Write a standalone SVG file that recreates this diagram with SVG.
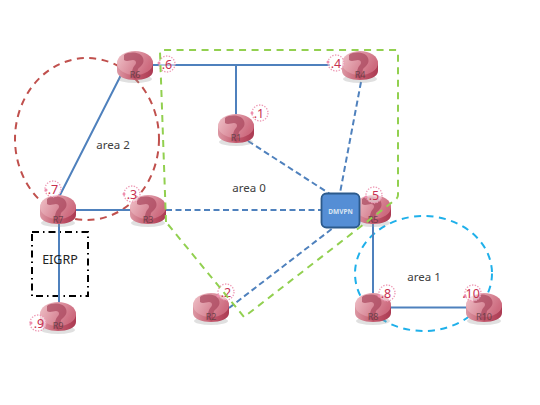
<svg xmlns="http://www.w3.org/2000/svg" width="540" height="405" viewBox="0 0 540 405">
<style>
text{font-family:"Noto Sans","Liberation Sans",sans-serif}
.solid,.dash{fill:none;stroke:#4f81bd;stroke-width:2}
.dash{stroke-dasharray:6 3.500}
.area{font-size:11.500px;fill:#404040;text-anchor:middle}
.rname{font-size:9px;fill:#5a3a40;text-anchor:middle;opacity:.8}
.badge{fill:#fff;fill-opacity:.55;stroke:#ee9ab5;stroke-width:1.300;stroke-dasharray:1.400 1.400}
.bdot{fill:#ee8fae}
.num{font-size:12.500px;fill:#c8304f;text-anchor:middle}
</style>
<defs>
<linearGradient id="side" x1="0" x2="1" y1="0" y2="0"><stop offset="0" stop-color="#dc98a4"/><stop offset=".5" stop-color="#c45a6e"/><stop offset="1" stop-color="#ab3a52"/></linearGradient>
<linearGradient id="top" x1="0" x2="1" y1="0" y2="0.400"><stop offset="0" stop-color="#f0c4ca"/><stop offset=".6" stop-color="#da8c9b"/><stop offset="1" stop-color="#cd6a7e"/></linearGradient>
<g id="router">
<ellipse cx="0" cy="13" rx="17" ry="4" fill="#999" opacity=".3"/>
<path d="M-18-3V5C-18 11-9 14 0 14S18 11 18 5V-3Z" fill="url(#side)"/>
<ellipse cx="0" cy="-3" rx="18" ry="12" fill="url(#top)"/>
<path d="M-11-11C-6-15 6-14 8-8C10-3 6 0 3 3C2 6 3 10 1 13L-4 11C-3 7-3 2 0-1C2-3 1-6-2-6C-5-6-8-4-11-6Z" fill="#a8465c" opacity=".7"/>
</g>
</defs>
<rect width="540" height="405" fill="#fff"/>
<g id="regions" fill="none">
<ellipse id="area2" cx="87" cy="139" rx="72" ry="81" stroke="#c0504d" stroke-width="2" stroke-dasharray="7 5.500"/>
<ellipse id="area1" cx="423.500" cy="273.500" rx="68.500" ry="57.500" stroke="#1fb0ea" stroke-width="2" stroke-dasharray="7 5.500"/>
<rect id="eigrp-box" x="32" y="232" width="56" height="64" stroke="#000" stroke-width="2" stroke-dasharray="7 4 1.500 4"/>
</g>
<g id="connectors">
<path class="solid" d="M153 65H330M236 65V115M59 197L121 75M76 210H130M373 224V295M390 307.500H467M59 224V303"/>
<path class="dash" d="M166 210H321M248 141L330 194M361 82L340 193M229 308L333 228"/>
</g>
<g id="node-R6"><use href="#router" x="135" y="66"/><text class="rname" x="135" y="78">R6</text><circle class="badge" cx="167" cy="64" r="8"/><circle class="bdot" cx="159" cy="63" r="1.500"/><text class="num" x="167" y="68.500">.6</text></g>
<g id="node-R4"><use href="#router" x="360" y="66"/><text class="rname" x="360" y="78">R4</text><circle class="badge" cx="336" cy="63" r="8"/><circle class="bdot" cx="328" cy="62" r="1.500"/><text class="num" x="336" y="67.500">.4</text></g>
<g id="node-R1"><use href="#router" x="236" y="129"/><text class="rname" x="236" y="141">R1</text><circle class="badge" cx="260" cy="113" r="8"/><circle class="bdot" cx="252" cy="113" r="1.500"/><text class="num" x="259" y="118">.1</text></g>
<g id="node-R7"><use href="#router" x="58" y="210"/><text class="rname" x="58" y="223">R7</text><circle class="badge" cx="53" cy="189" r="8"/><circle class="bdot" cx="46" cy="190" r="1.500"/><text class="num" x="53" y="194">.7</text></g>
<g id="node-R3"><use href="#router" x="148" y="210"/><text class="rname" x="148" y="223">R3</text><circle class="badge" cx="132" cy="194" r="8"/><circle class="bdot" cx="124" cy="194" r="1.500"/><text class="num" x="132" y="199">.3</text></g>
<g id="node-R5"><use href="#router" x="373" y="210"/><text class="rname" x="373" y="223">R5</text><circle class="badge" cx="374" cy="195" r="8"/><circle class="bdot" cx="366" cy="197" r="1.500"/><text class="num" x="374" y="200">.5</text></g>
<g id="node-DMVPN"><rect x="321.500" y="193.500" width="38" height="34" rx="5" fill="#558ed5" stroke="#2c5a8c" stroke-width="1.800"/><text x="340.500" y="213.500" font-size="6.500" font-weight="700" fill="#dce6f2" text-anchor="middle">DMVPN</text></g>
<g id="node-R2"><use href="#router" x="211" y="308"/><text class="rname" x="211" y="320">R2</text><circle class="badge" cx="226" cy="292" r="8"/><circle class="bdot" cx="218" cy="296" r="1.500"/><text class="num" x="226" y="297">.2</text></g>
<g id="node-R9"><use href="#router" x="58" y="317"/><text class="rname" x="58" y="329">R9</text><circle class="badge" cx="38" cy="323" r="8"/><circle class="bdot" cx="31" cy="323" r="1.500"/><text class="num" x="39" y="328">.9</text></g>
<g id="node-R8"><use href="#router" x="373" y="308"/><text class="rname" x="373" y="320">R8</text><circle class="badge" cx="387" cy="293" r="8"/><circle class="bdot" cx="379" cy="296" r="1.500"/><text class="num" x="386" y="298">.8</text></g>
<g id="node-R10"><use href="#router" x="484" y="308"/><text class="rname" x="484" y="320">R10</text><circle class="badge" cx="473" cy="293" r="8"/><circle class="bdot" cx="465" cy="296" r="1.500"/><text class="num" x="471" y="298">.10</text></g>
<path id="area0" fill="none" d="M166 222L160 52Q160 50 162 50H396Q398 50 398 52V195Q398 198 395 200L244 317Z" stroke="#92d050" stroke-width="2" stroke-dasharray="7 5.500"/>
<g id="labels">
<text class="area" x="113" y="149">area 2</text>
<text class="area" x="249" y="192">area 0</text>
<text class="area" x="424" y="281">area 1</text>
<text x="60" y="264" font-size="12.500" fill="#222" text-anchor="middle">EIGRP</text>
</g>
</svg>
